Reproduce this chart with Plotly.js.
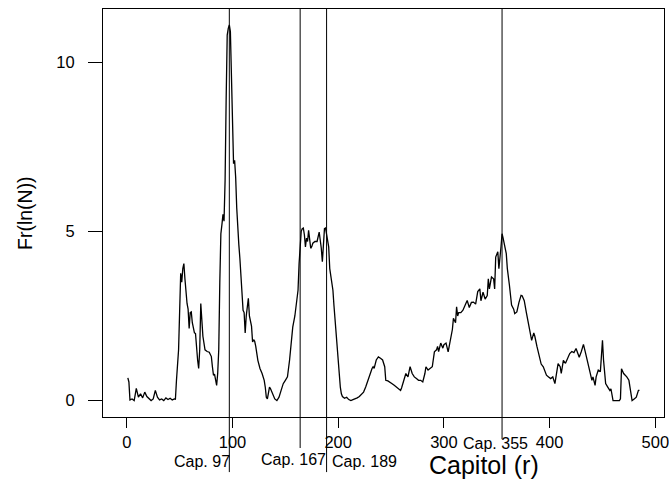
<!DOCTYPE html>
<html>
<head>
<meta charset="utf-8">
<script src="https://cdn.plot.ly/plotly-3.0.1.min.js"></script>
<style>html,body{margin:0;padding:0;background:#fff}#chart{width:669px;height:483px}</style>
</head>
<body>
<div id="chart"></div>
<script>
// Chapter index (r)
const chapter = [1,2,3,5,7,9,11,13,15,17,19,21,23,25,27,29,31,33,35,37,39,41,43,45,46,47,48,49,51,52,53,54,55,56,57,58,59,60,61,62,63,64,65,66,67,68,69,70,71,72,74,76,78,80,81,82,83,84,85,86,87,88,89,90,91,92,93,94,95,96,97,98,99,100,101,102,103,104,105,106,107,108,109,110,111,112,113,114,115,116,117,118,119,120,121,122,124,126,128,130,131,132,133,134,135,136,138,140,142,144,146,148,150,152,154,155,157,159,160,162,163,164,165,166,167,168,169,170,171,172,173,174,175,176,178,180,182,183,184,185,186,187,188,189,190,191,192,193,194,195,196,197,198,199,200,201,202,203,204,206,208,210,212,214,216,218,220,222,224,226,228,230,232,233,234,236,238,240,242,244,245,247,249,251,253,255,257,259,260,262,264,266,268,270,272,274,276,278,280,282,283,285,287,289,291,293,294,295,297,299,300,302,304,306,308,309,311,312,313,314,316,318,320,322,324,326,328,330,332,334,335,337,339,341,342,343,345,347,348,349,351,352,354,355,356,357,359,360,361,362,364,366,367,369,371,373,374,376,378,380,381,383,385,386,388,390,392,394,396,397,399,401,403,405,408,410,411,413,415,417,419,421,423,425,427,428,430,432,434,436,438,440,441,443,444,446,448,450,451,452,453,455,457,458,460,463,466,467,468,470,472,473,475,476,478,480,482,484,485];
// Fr(ln(N)) values
const frLnN = [0.67,0.55,0.02,0.05,0.0,0.36,0.1,0.2,0.08,0.25,0.12,0.05,0.0,0.05,0.3,0.1,0.02,0.05,0.0,0.08,0.03,0.07,0.02,0.05,0.04,0.6,1.0,1.5,3.76,3.5,3.9,4.05,3.6,3.2,2.87,2.7,2.13,2.6,2.62,2.3,2.08,2.0,1.98,1.5,1.2,0.95,1.5,2.87,2.2,1.9,1.5,1.45,1.43,1.3,1.0,0.75,0.78,0.6,0.45,0.8,1.5,3.5,4.93,5.2,5.5,5.3,6.5,8.9,10.8,11.0,11.1,10.9,9.4,8.0,7.0,7.1,6.6,5.7,4.93,4.6,4.2,3.6,3.0,2.67,2.6,2.0,2.5,2.8,3.02,2.5,2.3,2.2,1.73,1.8,1.75,1.6,1.19,0.95,0.8,0.6,0.4,0.1,0.05,0.2,0.4,0.35,0.2,0.05,0.0,0.1,0.3,0.5,0.6,0.7,1.2,1.5,2.17,2.5,2.77,3.26,4.05,4.54,5.0,5.08,5.1,4.9,4.54,4.8,4.7,5.03,4.8,4.5,4.55,4.65,4.7,4.7,4.98,4.8,4.5,4.1,4.7,5.08,5.1,4.9,4.7,4.54,3.9,3.65,3.4,3.26,2.8,2.37,1.9,1.39,1.0,0.6,0.4,0.2,0.12,0.07,0.1,0.03,0.0,0.03,0.05,0.08,0.12,0.18,0.25,0.4,0.6,0.75,0.95,1.0,0.95,1.2,1.29,1.25,1.2,1.0,0.6,0.58,0.55,0.5,0.45,0.4,0.35,0.3,0.38,0.6,0.8,0.7,1.0,0.8,0.7,0.65,0.6,0.6,0.55,0.8,1.0,0.9,0.95,1.0,1.44,1.5,1.6,1.45,1.7,1.55,1.65,1.7,1.44,1.8,2.1,2.43,2.3,2.77,2.5,2.6,2.6,2.67,2.8,2.96,2.75,2.9,2.91,2.85,3.22,3.3,2.95,3.2,3.0,3.1,3.6,3.3,3.65,3.6,3.3,4.24,4.4,3.9,4.54,4.93,4.8,4.6,4.34,3.9,3.55,3.4,2.82,2.7,2.57,2.62,2.9,3.11,3.1,2.95,2.6,2.27,2.0,1.78,2.0,1.9,1.6,1.29,1.08,1.0,0.85,0.75,0.7,0.65,0.7,0.5,1.09,1.0,0.8,1.19,1.1,1.25,1.39,1.45,1.42,1.54,1.4,1.28,1.45,1.66,1.4,1.1,0.8,0.6,0.7,0.45,0.7,0.9,0.85,1.78,1.2,0.7,0.5,0.4,0.3,0.35,0.0,0.0,0.0,0.05,0.94,0.8,0.75,0.7,0.6,0.4,0.0,0.05,0.1,0.3,0.3];
// Marked chapters (vertical lines) and their labels
const capLineX = [97, 164, 189, 355];
const capLabels = ["Cap. 97", "Cap. 167", "Cap. 189", "Cap. 355"];
const xTicks = [0, 100, 200, 300, 400, 500];
const yTicks = [0, 5, 10];

const FONT = "Liberation Sans, Arial, sans-serif";
// label placement (layout only)
const labelX = [71.4, 157.7, 225, 349];
const labelY = [-0.11, -0.105, -0.11, -0.065];
const lineBottom = [-0.135, -0.076, -0.135, -0.054];

const shapes = capLineX.map((x, i) => ({
  type: 'line', xref: 'x', yref: 'paper', x0: x, x1: x, y0: lineBottom[i], y1: 1,
  line: {color: '#000', width: 1}
}));

const annotations = capLabels.map((t, i) => ({
  text: t, xref: 'x', yref: 'paper', x: labelX[i], y: labelY[i],
  xanchor: 'center', yanchor: 'middle', showarrow: false, borderpad: 0,
  font: {family: FONT, size: 16, color: '#000'}
}));
annotations.push({
  text: 'Capitol (r)', xref: 'paper', yref: 'paper', x: 0.679, y: -0.118,
  xanchor: 'center', yanchor: 'middle', showarrow: false,
  font: {family: FONT, size: 25, color: '#000'}
});
annotations.push({
  text: 'Fr(ln(N))', xref: 'paper', yref: 'paper', x: -0.139, y: 0.5,
  xanchor: 'center', yanchor: 'middle', showarrow: false, textangle: -90,
  font: {family: FONT, size: 19.5, color: '#000'}
});

const trace = {
  x: chapter, y: frLnN, type: 'scatter', mode: 'lines',
  line: {color: '#000', width: 1.3}, hoverinfo: 'skip'
};

const layout = {
  width: 669, height: 483,
  margin: {l: 103, r: 5, t: 9, b: 66},
  paper_bgcolor: '#fff', plot_bgcolor: '#fff',
  showlegend: false,
  font: {family: FONT, size: 16.5, color: '#000'},
  xaxis: {
    range: [-22.5, 508.2], tickvals: xTicks, ticktext: xTicks.map(String),
    ticks: 'outside', ticklen: 10, tickwidth: 1, tickcolor: '#000',
    showline: true, mirror: true, linecolor: '#000', linewidth: 1,
    showgrid: false, zeroline: false, ticklabeloverflow: 'allow',
    tickfont: {family: FONT, size: 16.5, color: '#000'}
  },
  yaxis: {
    range: [-0.485, 11.57], tickvals: yTicks, ticktext: yTicks.map(String),
    ticks: 'outside', ticklen: 14, tickwidth: 1, tickcolor: '#000',
    showline: true, mirror: true, linecolor: '#000', linewidth: 1,
    showgrid: false, zeroline: false, ticklabelstandoff: 10,
    tickfont: {family: FONT, size: 16.5, color: '#000'}
  },
  shapes: shapes,
  annotations: annotations
};

Plotly.newPlot('chart', [trace], layout, {staticPlot: true, displayModeBar: false});
</script>
</body>
</html>
